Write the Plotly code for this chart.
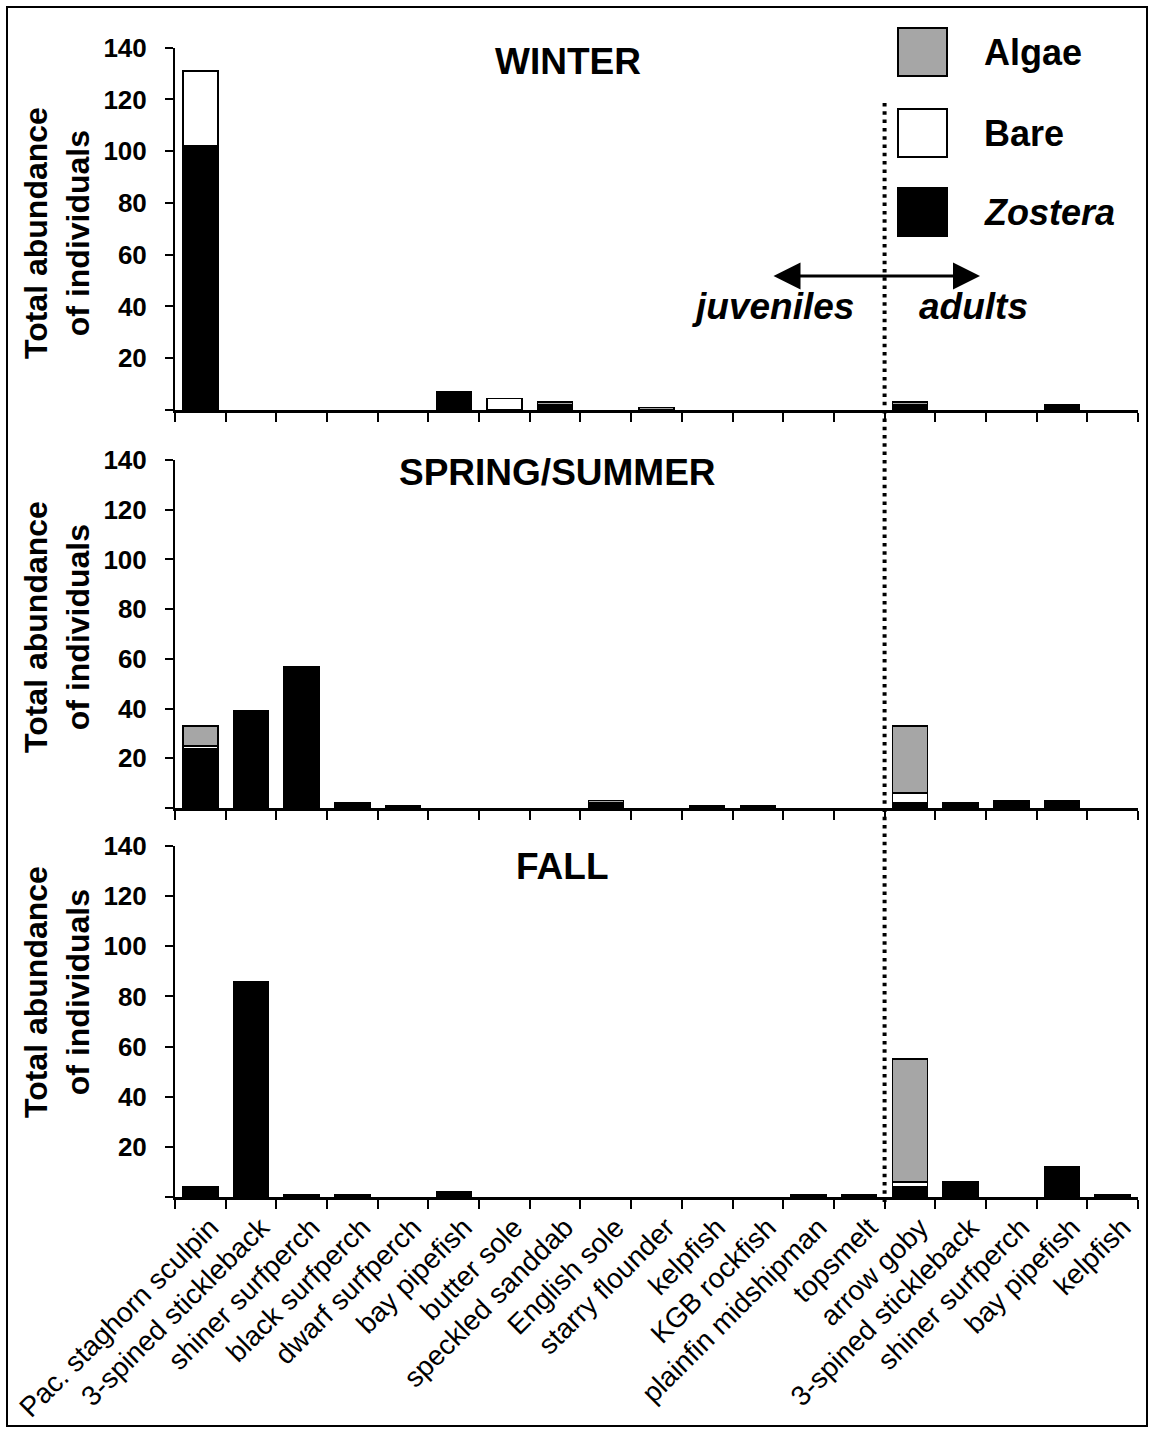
import plotly.graph_objects as go
from plotly.subplots import make_subplots

# Species along the x axis: juveniles (first 14) then adults (last 5)
species = [
    "Pac. staghorn sculpin", "3-spined stickleback", "shiner surfperch",
    "black surfperch", "dwarf surfperch", "bay pipefish", "butter sole",
    "speckled sanddab", "English sole", "starry flounder", "kelpfish",
    "KGB rockfish", "plainfin midshipman", "topsmelt",
    "arrow goby", "3-spined stickleback", "shiner surfperch",
    "bay pipefish", "kelpfish",
]

seasons = ["WINTER", "SPRING/SUMMER", "FALL"]

# Total abundance per habitat, per season
winter_zostera = [102, 0, 0, 0, 0, 7, 0, 2, 0, 0, 0, 0, 0, 0, 2, 0, 0, 2, 0]
winter_bare    = [29, 0, 0, 0, 0, 0, 4.5, 0, 0, 0, 0, 0, 0, 0, 0, 0, 0, 0, 0]
winter_algae   = [0, 0, 0, 0, 0, 0, 0, 1, 0, 1, 0, 0, 0, 0, 1, 0, 0, 0, 0]

spring_zostera = [24, 39, 57, 2, 1, 0, 0, 0, 2, 0, 1, 1, 0, 0, 2, 2, 3, 3, 0]
spring_bare    = [1, 0, 0, 0, 0, 0, 0, 0, 0, 0, 0, 0, 0, 0, 4, 0, 0, 0, 0]
spring_algae   = [8, 0, 0, 0, 0, 0, 0, 0, 1, 0, 0, 0, 0, 0, 27, 0, 0, 0, 0]

fall_zostera = [4, 86, 1, 1, 0, 2, 0, 0, 0, 0, 0, 0, 1, 1, 4, 6, 0, 12, 1]
fall_bare    = [0, 0, 0, 0, 0, 0, 0, 0, 0, 0, 0, 0, 0, 0, 2, 0, 0, 0, 0]
fall_algae   = [0, 0, 0, 0, 0, 0, 0, 0, 0, 0, 0, 0, 0, 0, 49, 0, 0, 0, 0]

habitats = ["Zostera", "Bare", "Algae"]
habitat_colors = {"Zostera": "#000000", "Bare": "#ffffff", "Algae": "#a6a6a6"}

y_ticks = [0, 20, 40, 60, 80, 100, 120, 140]
y_ticktext = ["", "20", "40", "60", "80", "100", "120", "140"]

W, H = 1152, 1430
FONT = "Arial, Liberation Sans, sans-serif"


def px(x):
    return x / W


def py(y):
    return 1 - y / H


season_data = [
    (winter_zostera, winter_bare, winter_algae),
    (spring_zostera, spring_bare, spring_algae),
    (fall_zostera, fall_bare, fall_algae),
]

fig = make_subplots(rows=3, cols=1)
xs = list(range(len(species)))

for r, values in enumerate(season_data, start=1):
    for hab, vals in zip(habitats, values):
        # empty cells are left out so no outline is drawn on the axis
        shown = [v if v else None for v in vals]
        fig.add_trace(
            go.Bar(
                x=xs, y=shown, name=hab, width=0.69,
                marker=dict(color=habitat_colors[hab],
                            line=dict(color="black", width=1.5)),
                showlegend=False,
            ),
            row=r, col=1,
        )

# panel placement (pixel rows of each plot area)
panel_rows = [(47.7, 410), (460, 808), (846, 1197)]
x_dom = [px(175), px(1138)]
boundaries = [i - 0.5 for i in range(len(species) + 1)]

for r, (top, bottom) in enumerate(panel_rows, start=1):
    xa = "xaxis" if r == 1 else f"xaxis{r}"
    ya = "yaxis" if r == 1 else f"yaxis{r}"
    fig.layout[xa].update(
        domain=x_dom, range=[-0.5, len(species) - 0.5],
        showline=True, linecolor="black", linewidth=3,
        showgrid=False, zeroline=False,
        tickmode="array", tickvals=xs, ticktext=species,
        ticks="", showticklabels=(r == 3), tickangle=-45,
        ticklabelshift=10,
        tickfont=dict(family=FONT, size=28, color="black"),
        minor=dict(tickmode="array", tickvals=boundaries, ticks="outside",
                   ticklen=9, tickwidth=1.5, tickcolor="black"),
        automargin=False,
    )
    fig.layout[ya].update(
        domain=[py(bottom), py(top)], range=[0, 140],
        showline=True, linecolor="black", linewidth=2,
        showgrid=False, zeroline=False,
        tickmode="array", tickvals=y_ticks, ticktext=y_ticktext,
        ticks="outside", ticklen=8, tickwidth=1.5, tickcolor="black",
        ticklabelstandoff=13,
        tickfont=dict(family=FONT, size=26, color="black", weight="bold"),
        automargin=False,
    )

annotations = []

# season titles
for title, (x, y) in zip(seasons, [(568, 62), (557, 472), (562, 866)]):
    annotations.append(dict(
        text=f"<b>{title}</b>", x=px(x), y=py(y), xref="paper", yref="paper",
        showarrow=False, font=dict(family=FONT, size=37, color="black"),
        xanchor="center", yanchor="middle",
    ))

# y-axis titles
for yc in [233, 627, 992]:
    annotations.append(dict(
        text="<b>Total abundance<br>of individuals</b>",
        x=px(57), y=py(yc), xref="paper", yref="paper", textangle=-90,
        showarrow=False, font=dict(family=FONT, size=32, color="black"),
        xanchor="center", yanchor="middle",
    ))

# legend labels
legend_items = [("Algae", "<b>Algae</b>", 52),
                ("Bare", "<b>Bare</b>", 133),
                ("Zostera", "<b><i>Zostera</i></b>", 212)]
shapes = []
for hab, label, yc in legend_items:
    shapes.append(dict(
        type="rect", xref="paper", yref="paper",
        x0=px(898), x1=px(947), y0=py(yc - 24), y1=py(yc + 24),
        fillcolor=habitat_colors[hab], line=dict(color="black", width=2),
    ))
    annotations.append(dict(
        text=label, x=px(982), y=py(yc), xref="paper", yref="paper",
        showarrow=False, font=dict(family=FONT, size=36, color="black"),
        xanchor="left", yanchor="middle",
    ))

# juveniles / adults arrow
annotations.append(dict(
    text="", x=px(980), y=py(276), ax=-208, ay=0,
    xref="paper", yref="paper", axref="pixel", ayref="pixel",
    showarrow=True, arrowhead=2, startarrowhead=2, arrowside="end+start",
    arrowwidth=3, arrowsize=1.8, startarrowsize=1.8, arrowcolor="black",
))
for label, x in [("juveniles", 773), ("adults", 973)]:
    annotations.append(dict(
        text=f"<b><i>{label}</i></b>", x=px(x), y=py(306),
        xref="paper", yref="paper", showarrow=False,
        font=dict(family=FONT, size=37, color="black"),
        xanchor="center", yanchor="middle",
    ))

# dotted divider between juvenile and adult species
shapes.append(dict(
    type="line", xref="x3", yref="paper", x0=13.5, x1=13.5,
    y0=py(103), y1=py(1203),
    line=dict(color="black", width=4, dash="3.5px,4.8px"),
))

# frame around the whole figure
shapes.append(dict(
    type="rect", xref="paper", yref="paper",
    x0=px(7), x1=px(1147), y0=py(1426), y1=py(7),
    line=dict(color="black", width=2), fillcolor="rgba(0,0,0,0)",
))

fig.update_layout(
    width=W, height=H,
    margin=dict(l=0, r=0, t=0, b=0),
    paper_bgcolor="white", plot_bgcolor="white",
    barmode="stack", bargap=0.31,
    annotations=annotations, shapes=shapes,
    showlegend=False,
    font=dict(family=FONT, color="black"),
)

fig.write_html("out.html")
